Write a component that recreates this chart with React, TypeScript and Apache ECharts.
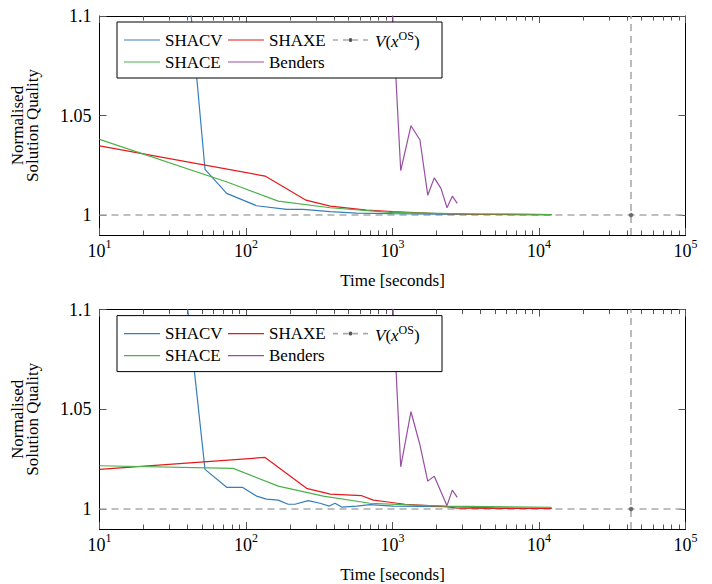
import React, { useEffect, useRef } from "react";
import * as echarts from "echarts";

// ---------- data ----------
const seriesNames = ["SHACV", "SHAXE", "SHACE", "Benders"];
const seriesColors = ["#377eb8", "#e41a1c", "#4daf4a", "#984ea3"];
const refName = "V(x^OS)";
const refTime = 42500;
const refValue = 1;

// top panel
const topShacvT = [36.7, 52.5, 73.8, 118, 190, 245, 376, 570, 1000, 2000, 5000, 12200];
const topShacvV = [1.15, 1.023, 1.0109, 1.0047, 1.0029, 1.0029, 1.0017, 1.001, 1.0007, 1.0005, 1.0003, 1.0002];
const topShaxeT = [10, 135, 257, 376, 667, 1000, 2000, 4000, 12200];
const topShaxeV = [1.0348, 1.0196, 1.0075, 1.0045, 1.0025, 1.0018, 1.0008, 1.0004, 1.0002];
const topShaceT = [10, 75, 166, 376, 961, 3000, 12200];
const topShaceV = [1.038, 1.0165, 1.007, 1.0037, 1.0014, 1.0006, 1.0003];
const topBendersT = [925, 1138, 1337, 1540, 1740, 1928, 2142, 2355, 2560, 2768];
const topBendersV = [1.15, 1.0223, 1.0449, 1.0377, 1.01, 1.0187, 1.0134, 1.0037, 1.0095, 1.0059];

// bottom panel
const botShacvT = [33.8, 52.5, 73.8, 94.4, 118, 138, 166, 194, 216, 266, 320, 370, 405, 450, 570, 702, 1012, 2344, 5000, 12200];
const botShacvV = [1.15, 1.0199, 1.0109, 1.0109, 1.0065, 1.005, 1.0045, 1.0024, 1.0024, 1.0042, 1.0029, 1.0015, 1.0029, 1.001, 1.0015, 1.0022, 1.0015, 1.0012, 1.0006, 1.0003];
const botShaxeT = [10, 135, 259, 376, 617, 740, 961, 1217, 2344, 2768, 12200];
const botShaxeV = [1.0199, 1.0259, 1.0104, 1.0075, 1.0067, 1.0045, 1.0034, 1.0024, 1.0012, 1.0004, 1.0003];
const botShaceT = [10, 81.8, 166, 337, 702, 1387, 2344, 12200];
const botShaceV = [1.0217, 1.0204, 1.0115, 1.0065, 1.0029, 1.002, 1.0015, 1.0009];
const botBendersT = [935, 1138, 1337, 1540, 1740, 1928, 2355, 2560, 2768];
const botBendersV = [1.15, 1.0212, 1.0488, 1.0321, 1.014, 1.0165, 1.0017, 1.0095, 1.0059];

const yTicks = [1, 1.05, 1.1];
const xMin = 10;
const xMax = 100000;
const yMin = 0.99;
const yMax = 1.1;
const xTitle = "Time [seconds]";
const yTitle = "Normalised\nSolution Quality";

// ---------- helpers ----------
const FONT = "Liberation Serif, DejaVu Serif, serif";
const zip = (t: number[], v: number[]) => t.map((x, i) => [x, v[i]]);

const panels = [
  [zip(topShacvT, topShacvV), zip(topShaxeT, topShaxeV), zip(topShaceT, topShaceV), zip(topBendersT, topBendersV)],
  [zip(botShacvT, botShacvV), zip(botShaxeT, botShaxeV), zip(botShaceT, botShaceV), zip(botBendersT, botBendersV)],
];

const minorLog: number[] = [];
for (let d = 1; d < 5; d++) for (let k = 2; k <= 9; k++) minorLog.push(d + Math.log10(k));
const majorLog = [1, 2, 3, 4, 5];

const grids = [
  { left: 99.5, top: 16, width: 586, height: 219 },
  { left: 99.5, top: 309.6, width: 586, height: 219.7 },
];

export default function App() {
  const ref = useRef<HTMLDivElement>(null);
  useEffect(() => {
    document.body.style.margin = "0";
    const chart = echarts.init(ref.current!, null, { renderer: "svg" });
    const xAxis: any[] = [];
    const yAxis: any[] = [];
    const series: any[] = [];
    const graphic: any[] = [];
    grids.forEach((g, gi) => {
      xAxis.push({
        type: "log", logBase: 10, min: xMin, max: xMax, gridIndex: gi, position: "bottom",
        axisLine: { show: true, lineStyle: { color: "#000", width: 1 } },
        axisTick: { show: true, inside: true, length: 7, lineStyle: { color: "#555" } },
        splitLine: { show: false }, minorTick: { show: false },
        axisLabel: {
          margin: 3,
          formatter: (v: number) => `{b|10}{s|${Math.round(Math.log10(v))}}`,
          rich: {
            b: { fontSize: 18, fontFamily: FONT, color: "#000", lineHeight: 22, verticalAlign: "bottom" },
            s: { fontSize: 12, fontFamily: FONT, color: "#000", lineHeight: 12, verticalAlign: "top" },
          },
        },
        name: xTitle, nameLocation: "middle", nameGap: 37,
        nameTextStyle: { fontFamily: FONT, fontSize: 17, color: "#000" },
      });
      xAxis.push({
        type: "value", min: 1, max: 5, gridIndex: gi, position: "bottom",
        axisLine: { show: false }, axisLabel: { show: false }, splitLine: { show: false },
        axisTick: { show: true, inside: true, length: 4.5, customValues: minorLog, lineStyle: { color: "#555" } },
      });
      xAxis.push({
        type: "value", min: 1, max: 5, gridIndex: gi, position: "top",
        axisLine: { show: true, lineStyle: { color: "#000", width: 1 } }, axisLabel: { show: false }, splitLine: { show: false },
        axisTick: { show: true, inside: true, length: 7, customValues: majorLog, lineStyle: { color: "#555" } },
      });
      xAxis.push({
        type: "value", min: 1, max: 5, gridIndex: gi, position: "top",
        axisLine: { show: false }, axisLabel: { show: false }, splitLine: { show: false },
        axisTick: { show: true, inside: true, length: 4.5, customValues: minorLog, lineStyle: { color: "#555" } },
      });
      yAxis.push({
        type: "value", min: yMin, max: yMax, gridIndex: gi, position: "left",
        axisLine: { show: true, lineStyle: { color: "#000", width: 1 } },
        axisTick: { show: true, inside: true, length: 7, customValues: yTicks, lineStyle: { color: "#555" } },
        splitLine: { show: false },
        axisLabel: {
          customValues: yTicks, margin: 8, fontFamily: FONT, fontSize: 18, color: "#000",
          formatter: (v: number) => String(+v.toFixed(2)),
        },
        name: yTitle, nameLocation: "middle", nameGap: 59, nameRotate: 90,
        nameTextStyle: { fontFamily: FONT, fontSize: 17, color: "#000", lineHeight: 15.5 },
      });
      yAxis.push({
        type: "value", min: yMin, max: yMax, gridIndex: gi, position: "right",
        axisLine: { show: true, lineStyle: { color: "#000", width: 1 } },
        axisTick: { show: true, inside: true, length: 7, customValues: yTicks, lineStyle: { color: "#555" } },
        splitLine: { show: false }, axisLabel: { show: false },
      });
      const xi = gi * 4;
      const yi = gi * 2;
      panels[gi].forEach((data, si) => {
        series.push({
          type: "line", name: seriesNames[si], xAxisIndex: xi, yAxisIndex: yi, data,
          showSymbol: false, symbol: "none", clip: true, z: 3,
          lineStyle: { color: seriesColors[si], width: 1.2 },
        });
      });
      series.push({
        type: "scatter", name: refName, xAxisIndex: xi, yAxisIndex: yi, z: 4,
        data: [[refTime, refValue]], symbol: "circle", symbolSize: 4.5,
        itemStyle: { color: "#555" },
        markLine: {
          silent: true, symbol: ["none", "none"], label: { show: false }, z: 2,
          lineStyle: { color: "#aaa", type: [7, 5], width: 1.6 },
          data: [{ xAxis: refTime }, { yAxis: refValue }],
        },
      });
      const T = g.top;
      const lx = 117;
      const ly = T + 6;
      graphic.push({
        type: "rect", z: 100, shape: { x: lx, y: ly, width: 325, height: 56 },
        style: { fill: "#fff", stroke: "#000", lineWidth: 1 },
      });
      const rows = [ly + 18, ly + 40];
      const items = [
        { i: 0, x: 124, y: rows[0] },
        { i: 1, x: 228, y: rows[0] },
        { i: 2, x: 124, y: rows[1] },
        { i: 3, x: 228, y: rows[1] },
      ];
      items.forEach((it) => {
        graphic.push({
          type: "line", z: 101, shape: { x1: it.x, y1: it.y, x2: it.x + 36, y2: it.y },
          style: { stroke: seriesColors[it.i], lineWidth: 1.2 },
        });
        graphic.push({
          type: "text", z: 101, x: it.x + 41, y: it.y,
          style: { text: seriesNames[it.i], fontFamily: FONT, fontSize: 17, fill: "#000", verticalAlign: "middle" },
        });
      });
      graphic.push({
        type: "line", z: 101, shape: { x1: 333, y1: rows[0], x2: 368, y2: rows[0] },
        style: { stroke: "#aaa", lineWidth: 1.6, lineDash: [5, 5] },
      });
      graphic.push({
        type: "circle", z: 102, shape: { cx: 350.5, cy: rows[0], r: 2 },
        style: { fill: "#555" },
      });
      graphic.push({
        type: "text", z: 101, x: 375, y: rows[0],
        style: {
          text: "{i|V}{n|(}{i|x}{s|OS}{n|)}", verticalAlign: "middle", fill: "#000",
          rich: {
            i: { fontFamily: FONT, fontSize: 17, fontStyle: "italic", lineHeight: 20, verticalAlign: "bottom" },
            n: { fontFamily: FONT, fontSize: 17, lineHeight: 20, verticalAlign: "bottom" },
            s: { fontFamily: FONT, fontSize: 12, lineHeight: 12, verticalAlign: "top" },
          },
        },
      });
    });
    chart.setOption({
      animation: false,
      backgroundColor: "#fff",
      grid: grids,
      xAxis, yAxis, series, graphic,
    });
    return () => chart.dispose();
  }, []);
  return <div ref={ref} style={{ width: 712, height: 584, position: "absolute", left: 0, top: 0 }} />;
}
